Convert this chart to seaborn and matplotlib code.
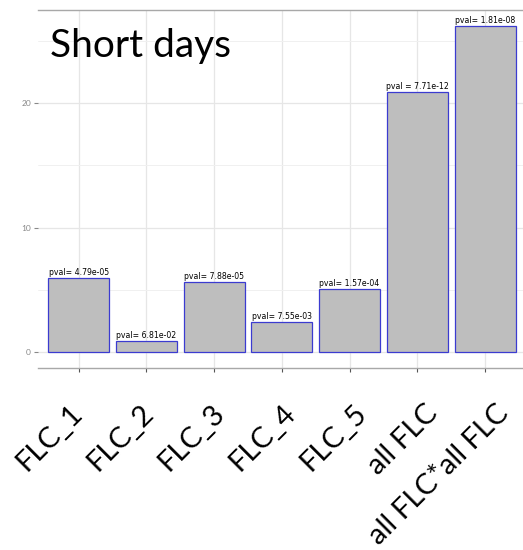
import pandas as pd
import seaborn as sns
import matplotlib.pyplot as plt
from matplotlib.ticker import MultipleLocator
from matplotlib.transforms import offset_copy

# data
categories = ['FLC_1', 'FLC_2', 'FLC_3', 'FLC_4', 'FLC_5', 'all FLC', 'all FLC*all FLC']
values = [5.95, 0.9, 5.6, 2.4, 5.05, 20.9, 26.2]
pvals = ['pval= 4.79e-05', 'pval= 6.81e-02', 'pval= 7.88e-05', 'pval= 7.55e-03',
         'pval= 1.57e-04', 'pval = 7.71e-12', 'pval= 1.81e-08']

df = pd.DataFrame({'group': categories, 'value': values})

sns.set_style('white')
plt.rcParams['font.family'] = ['Lato', 'DejaVu Sans']

fig = plt.figure(figsize=(5.23, 5.5), dpi=100)
ax = fig.add_axes([38 / 523, 1 - 368 / 550, 1 - 38 / 523, (368 - 10) / 550])

sns.barplot(data=df, x='group', y='value', color='#bebebe', saturation=1,
            edgecolor='#3b3bd0', linewidth=0.9, width=0.9, ax=ax, zorder=3)

# p-value labels on top of bars
for i, (v, p) in enumerate(zip(values, pvals)):
    ax.text(i, v + 0.08, p, ha='center', va='bottom', fontsize=5.6,
            family='DejaVu Sans', color='black', zorder=4)

ax.set_xlim(-0.6, 6.56)
ax.set_ylim(-1.3, 27.5)
ax.yaxis.set_major_locator(MultipleLocator(10))
ax.yaxis.set_minor_locator(MultipleLocator(5))
ax.grid(which='major', color='#e6e6e6', linewidth=0.9, zorder=0)
ax.grid(which='minor', axis='y', color='#f0f0f0', linewidth=0.7, zorder=0)
ax.set_axisbelow(True)

for s in ['left', 'right']:
    ax.spines[s].set_visible(False)
for s in ['top', 'bottom']:
    ax.spines[s].set_color('#a8a8a8')
    ax.spines[s].set_linewidth(1.0)

ax.set_xlabel('')
ax.set_ylabel('')
ax.tick_params(axis='y', which='major', length=3, color='#888888', labelsize=6,
               labelcolor='#888888', left=True, pad=2)
ax.tick_params(axis='y', which='minor', left=False)
ax.tick_params(axis='x', length=3, color='#555555', bottom=True, labelbottom=False)
ax.set_xticks(range(len(categories)))

# category labels were put on by hand in the slide: a bit wider apart than the bars
spread = 1.047
lab_tr = offset_copy(ax.get_xaxis_transform(), fig=fig, x=-9, y=-32, units='dots')
for i, c in enumerate(categories):
    ax.text(i * spread, 0, c, transform=lab_tr, rotation=45, ha='right', va='top',
            rotation_mode='anchor', fontsize=21, color='black', clip_on=False)

fig.text(50 / 523, 1 - 57 / 550, 'Short days', fontsize=28, va='baseline',
         ha='left', color='black')

fig.savefig('out.png', dpi=100)
